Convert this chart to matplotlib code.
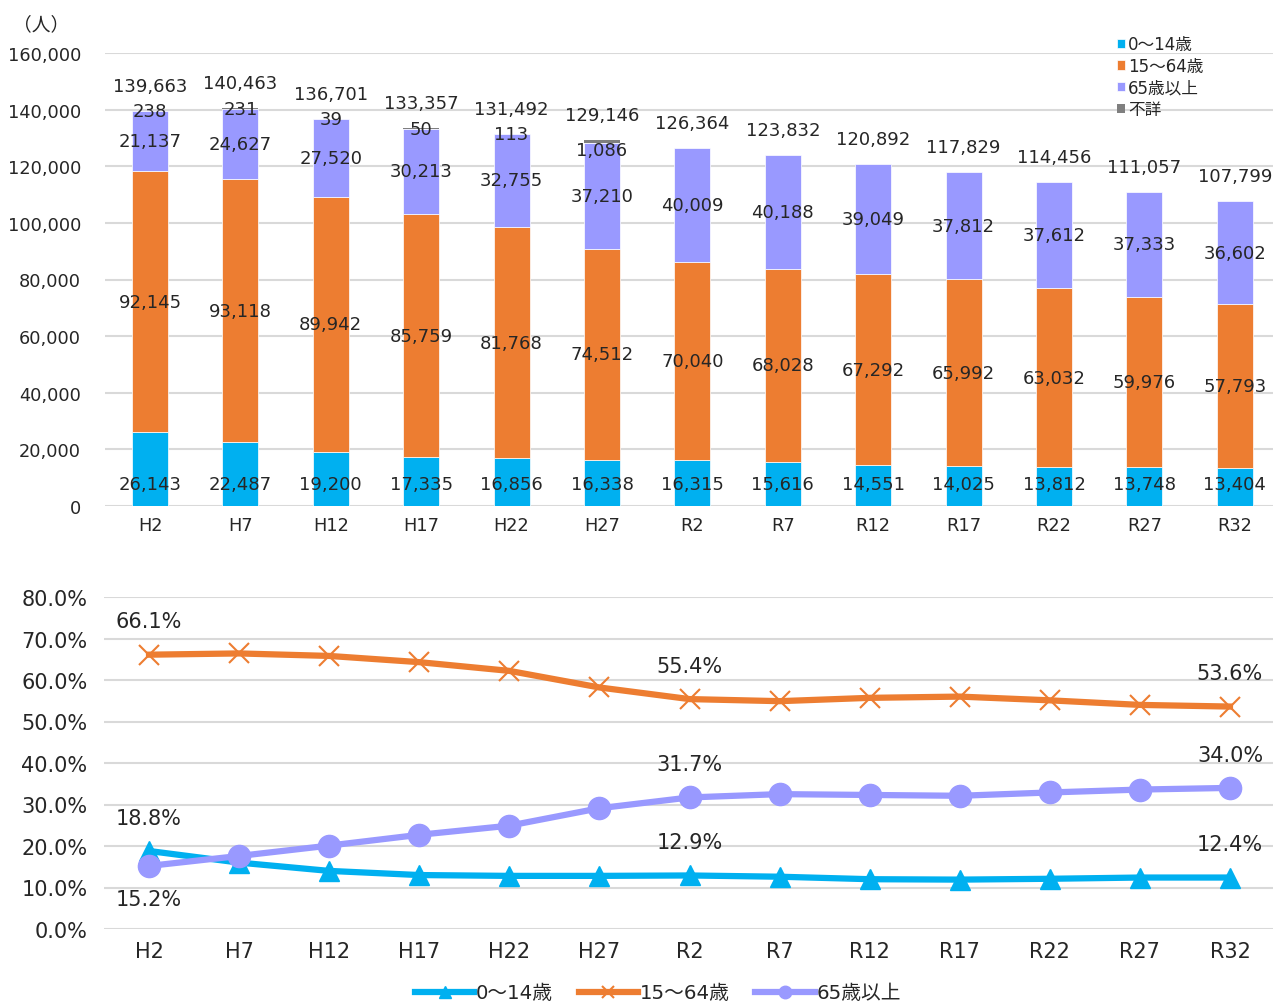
import matplotlib
matplotlib.use("Agg")
import matplotlib.pyplot as plt
import numpy as np

plt.rcParams['font.family'] = ['DejaVu Sans', 'Noto Sans CJK JP']

years = ["H2", "H7", "H12", "H17", "H22", "H27", "R2", "R7", "R12", "R17", "R22", "R27", "R32"]

age_0_14 = [26143, 22487, 19200, 17335, 16856, 16338, 16315, 15616, 14551, 14025, 13812, 13748, 13404]
age_15_64 = [92145, 93118, 89942, 85759, 81768, 74512, 70040, 68028, 67292, 65992, 63032, 59976, 57793]
age_65 = [21137, 24627, 27520, 30213, 32755, 37210, 40009, 40188, 39049, 37812, 37612, 37333, 36602]
unknown = [238, 231, 39, 50, 113, 1086, 0, 0, 0, 0, 0, 0, 0]
totals = [139663, 140463, 136701, 133357, 131492, 129146, 126364, 123832, 120892, 117829, 114456, 111057, 107799]

pct_0_14 = [18.8, 16.0, 14.0, 13.0, 12.8, 12.8, 12.9, 12.6, 12.0, 11.9, 12.1, 12.4, 12.4]
pct_15_64 = [66.1, 66.4, 65.8, 64.3, 62.2, 58.2, 55.4, 54.9, 55.7, 56.0, 55.1, 54.0, 53.6]
pct_65 = [15.2, 17.6, 20.1, 22.7, 24.9, 29.1, 31.7, 32.5, 32.3, 32.1, 32.9, 33.6, 34.0]

# which line labels are shown: (series, index, above?)
pct_labels = [("15_64", 0, True), ("15_64", 6, True), ("15_64", 12, True),
              ("65", 6, True), ("65", 12, True), ("65", 0, False),
              ("0_14", 0, True), ("0_14", 6, True), ("0_14", 12, True)]

c_blue = "#00B0F0"
c_orange = "#ED7D31"
c_purple = "#9999FF"
c_grey = "#7F7F7F"
grid_c = "#D9D9D9"
txt = "#262626"

fig = plt.figure(figsize=(12.73, 10.03), dpi=100)
W, H = 1273, 1003

# ---- top: stacked bars
ax1 = fig.add_axes([104.8 / W, 1 - 507 / H, (1280 - 104.8) / W, (507 - 54) / H])
x = np.arange(len(years))
bw = 0.4
b1 = np.array(age_0_14)
b2 = b1 + np.array(age_15_64)
b3 = b2 + np.array(age_65)

ax1.bar(x, age_0_14, bw, color=c_blue, edgecolor="white", linewidth=0.5, label="0～14歳", zorder=3)
ax1.bar(x, age_15_64, bw, bottom=b1, color=c_orange, edgecolor="white", linewidth=0.5, label="15～64歳", zorder=3)
ax1.bar(x, age_65, bw, bottom=b2, color=c_purple, edgecolor="white", linewidth=0.5, label="65歳以上", zorder=3)
ax1.bar(x, unknown, bw, bottom=b3, color=c_grey, edgecolor="none", label="不詳", zorder=3)

fs = 13
for i in range(len(years)):
    ax1.text(x[i], 7800, f"{age_0_14[i]:,}", ha="center", va="center", fontsize=fs, color=txt, zorder=4)
    ax1.text(x[i], b1[i] + age_15_64[i] / 2, f"{age_15_64[i]:,}", ha="center", va="center", fontsize=fs, color=txt, zorder=4)
    ax1.text(x[i], b2[i] + age_65[i] / 2, f"{age_65[i]:,}", ha="center", va="center", fontsize=fs, color=txt, zorder=4)
    if unknown[i] > 0:
        y_u = b3[i] + unknown[i] / 2
        if unknown[i] > 500:
            y_u -= 3000
        ax1.text(x[i], y_u, f"{unknown[i]:,}", ha="center", va="center", fontsize=fs, color=txt, zorder=4)
    ax1.annotate(f"{totals[i]:,}", (x[i], totals[i]), xytext=(0, 18), textcoords="offset points",
                 ha="center", va="center", fontsize=fs, color=txt, zorder=4)

ax1.set_xlim(-0.5, len(years) - 0.5)
ax1.set_ylim(0, 160000)
ax1.set_yticks(np.arange(0, 160001, 20000))
ax1.set_yticklabels([f"{v:,}" for v in range(0, 160001, 20000)])
ax1.set_xticks(x)
ax1.set_xticklabels(years)
ax1.yaxis.grid(True, color=grid_c, linewidth=1.5, zorder=0)
ax1.set_axisbelow(True)
for s in ax1.spines.values():
    s.set_visible(False)
ax1.tick_params(length=0, labelsize=12.8, colors=txt, pad=7)
ax1.tick_params(axis="y", pad=17)
ax1.text(-0.078, 1.065, "（人）", transform=ax1.transAxes, fontsize=13.5, color=txt, ha="left", va="center")

leg1 = ax1.legend(loc="upper left", bbox_to_anchor=((1110 - 104.8) / 1175.2, 1.054), frameon=False,
                  fontsize=12, handlelength=0.5, handleheight=0.5, handletextpad=0.2,
                  labelspacing=0.22, borderaxespad=0)
for t in leg1.get_texts():
    t.set_color(txt)

# ---- bottom: lines
fs2 = 15
ax2 = fig.add_axes([104 / W, 1 - 930 / H, (1275 - 104) / W, (930 - 598) / H])
ax2.plot(x, pct_0_14, color=c_blue, linewidth=4.5, marker="^", markersize=14, label="0～14歳", zorder=3)
ax2.plot(x, pct_15_64, color=c_orange, linewidth=4.5, marker="x", markersize=15, markeredgewidth=1.5,
         label="15～64歳", zorder=3)
ax2.plot(x, pct_65, color=c_purple, linewidth=4.5, marker="o", markersize=16, label="65歳以上", zorder=4)

series = {"0_14": pct_0_14, "15_64": pct_15_64, "65": pct_65}
for key, i, above in pct_labels:
    v = series[key][i]
    off = 24 if above else -24
    ax2.annotate(f"{v:.1f}%", (x[i], v), xytext=(0, off), textcoords="offset points",
                 ha="center", va="center", fontsize=fs2, color=txt, zorder=5)

ax2.set_xlim(-0.5, len(years) - 0.5)
ax2.set_ylim(0, 80)
ax2.set_yticks(np.arange(0, 81, 10))
ax2.set_yticklabels([f"{v:.1f}%" for v in range(0, 81, 10)])
ax2.set_xticks(x)
ax2.set_xticklabels(years)
ax2.yaxis.grid(True, color=grid_c, linewidth=1.5, zorder=0)
ax2.set_axisbelow(True)
for s in ax2.spines.values():
    s.set_visible(False)
ax2.tick_params(length=0, labelsize=fs2, colors=txt, pad=9)
ax2.tick_params(axis="y", pad=12)

leg2 = fig.legend(*ax2.get_legend_handles_labels(), loc="center", bbox_to_anchor=(658 / W, 1 - 994 / H),
                  ncol=3, frameon=False, fontsize=14.2, handlelength=3.0, handletextpad=0.1,
                  columnspacing=1.3, borderaxespad=0)
for h in leg2.legend_handles:
    h.set_markersize(9)
for t in leg2.get_texts():
    t.set_color(txt)

fig.savefig("out.png", dpi=100)
